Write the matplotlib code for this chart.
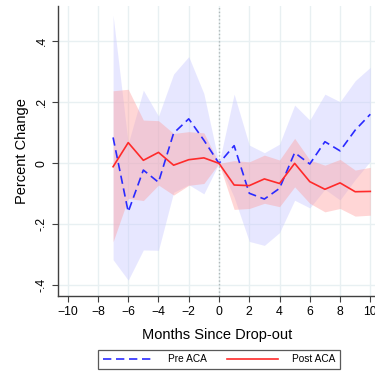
import numpy as np
from matplotlib import pyplot as plt

plt.rcParams['font.family'] = ['Liberation Sans', 'DejaVu Sans']

months = list(range(-7, 11))

pre_aca = [0.085, -0.159, -0.022, -0.062, 0.099, 0.146, 0.076, 0.0, 0.058, -0.098,
           -0.117, -0.082, 0.035, -0.002, 0.071, 0.041, 0.109, 0.161]
pre_hi = [0.486, 0.065, 0.240, 0.155, 0.293, 0.350, 0.229, 0.0, 0.227, 0.060,
          0.035, 0.063, 0.191, 0.142, 0.227, 0.202, 0.271, 0.315]
pre_lo = [-0.316, -0.383, -0.284, -0.285, -0.095, -0.070, -0.100, 0.0, -0.111, -0.256,
          -0.269, -0.227, -0.121, -0.146, -0.085, -0.120, -0.053, 0.007]

post_aca = [-0.011, 0.068, 0.010, 0.036, -0.006, 0.012, 0.018, 0.0, -0.071, -0.073,
            -0.051, -0.066, 0.0, -0.060, -0.085, -0.064, -0.093, -0.092]
post_hi = [0.238, 0.243, 0.142, 0.140, 0.098, 0.104, 0.100, 0.0, 0.009, 0.005,
           0.027, 0.011, 0.082, 0.011, -0.006, 0.013, -0.022, -0.013]
post_lo = [-0.257, -0.115, -0.122, -0.071, -0.104, -0.072, -0.066, 0.0, -0.151, -0.148,
           -0.131, -0.142, -0.077, -0.131, -0.159, -0.148, -0.173, -0.170]

xticks = list(range(-10, 11, 2))
yticks = [-0.4, -0.2, 0, 0.2, 0.4]
ytick_labels = ['-.4', '-.2', '0', '.2', '.4']

fig = plt.figure(figsize=(3.75, 3.73), dpi=100)
ax = fig.add_axes([0.1555, 0.2072, 0.8445, 0.7767])

grid_c = '#e8f0f2'
for t in xticks:
    ax.axvline(t, color=grid_c, lw=1.0, zorder=0)
for t in yticks:
    ax.axhline(t, color=grid_c, lw=1.0, zorder=0)

# confidence bands
ax.fill_between(months, pre_lo, pre_hi, color='#c8c8ff', alpha=0.42, lw=0, zorder=1)
ax.fill_between(months, post_lo, post_hi, color='#ff9a9a', alpha=0.4, lw=0, zorder=2)
ax.axvline(0, color='#b0b8b8', lw=1.0, ls=':', zorder=3)

ax.plot(months, pre_aca, color='#2a2aff', lw=1.2, ls=(0, (5, 2.8)), label='Pre ACA', zorder=4)
ax.plot(months, post_aca, color='#ff2a2a', lw=1.2, label='Post ACA', zorder=5)

ax.set_xlim(-10.62, 10.31)
ax.set_ylim(-0.434, 0.516)
ax.set_xticks(xticks)
ax.set_yticks(yticks)
ax.set_yticklabels(ytick_labels, rotation=90, va='center')
ax.tick_params(direction='out', length=4, width=0.8, color='#404040', labelsize=8.8)

for s in ['top', 'right']:
    ax.spines[s].set_visible(False)
for s in ['left', 'bottom']:
    ax.spines[s].set_color('#404040')
    ax.spines[s].set_linewidth(1.0)

ax.set_xlabel('Months Since Drop-out', fontsize=10.5, labelpad=7)
ax.set_ylabel('Percent Change', fontsize=10.5, labelpad=5)

leg = fig.legend(loc='lower center', bbox_to_anchor=(0.5845, 0.0), ncol=2,
                 fontsize=7.3, frameon=True, fancybox=False, edgecolor='#303030',
                 handlelength=5.0, handletextpad=1.4, columnspacing=2.0,
                 borderpad=0.45, borderaxespad=0.4)
leg.get_frame().set_linewidth(0.9)

fig.savefig('out.png', dpi=100)
